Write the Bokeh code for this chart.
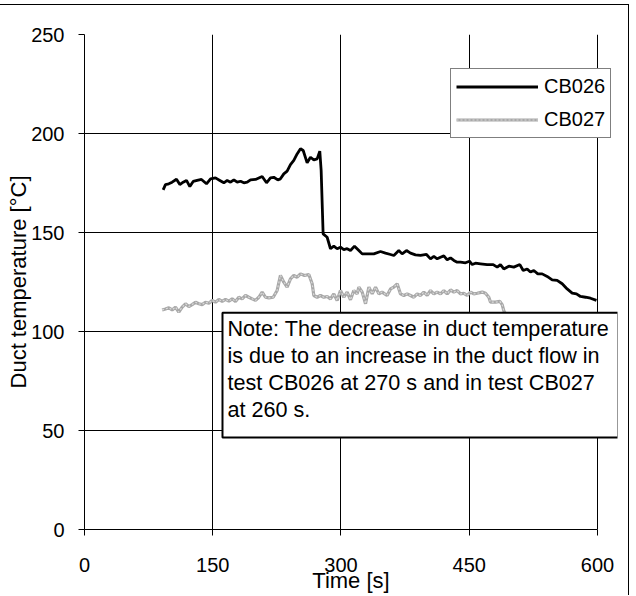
from bokeh.plotting import figure
from bokeh.models import Legend, LegendItem, Label, Range1d, FixedTicker
from bokeh.embed import file_html
from bokeh.resources import INLINE

# CB026 (black)
t26 = [92.0, 94.7, 98.6, 102.5, 107.6, 111.5, 115.4, 119.3, 123.2, 127.1, 131.8, 136.8, 142.7, 147.4,
       153.2, 158.3, 163.0, 166.9, 170.8, 174.7, 178.6, 182.5, 186.4, 190.3, 194.2, 200.0, 207.8, 212.9,
       217.5, 221.4, 226.1, 229.2, 233.1, 237.0, 240.9, 244.8, 248.7, 252.6, 255.8, 260.4, 264.3, 268.2,
       272.1, 275.2, 276.8, 279.1, 283.8, 287.7, 291.6, 295.5, 299.4, 303.3, 307.2, 311.1, 315.8, 320.9,
       324.8, 330.6, 338.4, 346.2, 352.0, 357.9, 361.8, 367.6, 371.5, 376.6, 381.3, 387.1, 393.0, 400.0,
       404.7, 408.6, 412.5, 416.4, 420.3, 424.2, 428.1, 432.0, 435.9, 439.8, 445.6, 450.3, 453.4, 457.3,
       463.2, 470.9, 478.0, 482.7, 486.5, 490.4, 496.3, 502.1, 509.2, 513.1, 517.7, 521.6, 525.5, 530.2,
       535.3, 541.1, 547.0, 552.8, 558.7, 564.5, 570.4, 575.4, 580.1, 586.0, 591.8, 598.8]
T26 = [171.5, 174.2, 174.6, 175.4, 176.9, 174.2, 175.4, 176.3, 173.2, 175.8, 176.3, 176.8, 174.6, 177.1,
       177.6, 176.3, 175.1, 176.3, 175.4, 176.6, 175.4, 175.9, 175.1, 175.4, 176.6, 176.8, 178.3, 175.1,
       177.6, 177.9, 176.6, 177.1, 179.6, 181.0, 184.3, 186.4, 189.7, 192.3, 191.4, 185.2, 188.0, 186.7,
       187.2, 191.1, 181.3, 149.3, 147.6, 141.8, 143.1, 141.8, 142.6, 141.4, 141.8, 140.9, 143.1, 140.9,
       139.2, 139.2, 139.2, 140.4, 139.6, 138.9, 138.4, 140.9, 139.2, 140.9, 139.6, 138.7, 138.4, 138.9,
       136.7, 137.9, 136.7, 137.5, 138.2, 136.2, 137.2, 135.9, 135.0, 135.0, 134.7, 135.5, 133.8, 134.5,
       134.2, 133.8, 133.8, 132.5, 133.8, 131.6, 133.0, 132.5, 133.8, 130.8, 131.6, 130.0, 130.8, 129.1,
       129.1, 127.8, 126.1, 125.8, 124.1, 121.5, 119.4, 119.0, 117.7, 117.3, 116.8, 115.7]

# CB027 (grey)
t27 = [90.8, 94.7, 98.6, 102.5, 106.4, 110.3, 114.2, 118.1, 122.0, 125.9, 129.8, 133.7, 137.6, 141.5,
       145.4, 149.3, 153.2, 157.1, 161.0, 164.9, 168.8, 172.7, 176.6, 180.5, 184.4, 188.3, 192.2, 196.1,
       200.0, 203.9, 207.8, 211.7, 215.6, 220.7, 225.3, 229.2, 233.1, 237.0, 240.9, 244.8, 248.7, 252.6,
       257.3, 262.4, 266.3, 268.2, 272.1, 276.0, 279.9, 283.8, 287.7, 291.6, 295.5, 299.4, 303.3, 307.2,
       311.1, 315.0, 318.9, 320.9, 324.8, 328.7, 332.6, 336.5, 340.4, 344.3, 348.1, 353.9, 357.9, 361.8,
       365.7, 369.6, 373.5, 377.4, 381.3, 385.2, 389.1, 393.0, 396.9, 400.8, 404.7, 408.6, 412.5, 416.4,
       420.3, 424.2, 428.1, 432.0, 435.9, 439.8, 443.7, 447.6, 451.5, 455.4, 459.3, 465.2, 469.0, 472.9,
       474.9, 480.7, 485.8, 488.5, 490.4, 492.4, 495.0]
T27 = [110.9, 111.4, 112.0, 110.9, 112.3, 109.8, 112.3, 114.0, 112.6, 113.6, 114.8, 114.0, 113.6, 114.8,
       114.3, 115.7, 114.8, 116.2, 115.2, 116.2, 115.3, 116.5, 115.2, 117.3, 116.5, 118.2, 117.3, 116.5,
       115.7, 117.3, 119.9, 117.3, 117.0, 117.3, 120.7, 128.3, 124.9, 122.4, 126.6, 128.3, 127.4, 129.1,
       128.3, 128.8, 124.1, 118.2, 117.3, 118.2, 117.3, 117.7, 116.5, 119.0, 115.7, 120.7, 117.3, 119.9,
       116.0, 120.7, 119.0, 122.4, 119.9, 114.0, 122.4, 119.0, 122.4, 119.0, 119.9, 118.2, 121.5, 122.4,
       124.1, 119.0, 118.2, 119.0, 118.2, 117.3, 119.0, 118.2, 119.9, 118.2, 120.7, 119.0, 119.9, 119.0,
       120.7, 119.0, 121.0, 119.9, 120.7, 119.0, 119.3, 118.2, 119.9, 119.0, 119.3, 119.9, 119.3, 117.3,
       114.8, 114.8, 115.2, 113.6, 110.5, 108.9, 104.0]

x_ticks = [0, 150, 300, 450, 600]
y_ticks = [0, 50, 100, 150, 200, 250]
series_names = ["CB026", "CB027"]
note_text = ("Note: The decrease in duct temperature\n"
             "is due to an increase in the duct flow in\n"
             "test CB026 at 270 s and in test CB027\n"
             "at 260 s.")

FONT = "Liberation Sans"

# frame extends a little past x=600 so the legend and the note can overhang it
p = figure(width=629, height=591, output_backend="svg", toolbar_location=None,
           x_range=Range1d(0, 623.4), y_range=Range1d(0, 250),
           min_border_left=84, min_border_right=12, min_border_top=29, min_border_bottom=67,
           background_fill_color="white", border_fill_color="white",
           outline_line_color=None,
           styles={"margin-top": "4px", "border-top": "1px solid black",
                   "border-right": "1px solid black"})

for ax, ticks in ((p.xaxis, x_ticks), (p.yaxis, y_ticks)):
    ax.ticker = FixedTicker(ticks=ticks)
    ax.axis_line_color = "black"
    ax.major_tick_line_color = "black"
    ax.major_tick_out = 6
    ax.major_tick_in = 0
    ax.minor_tick_line_color = None
    ax.major_label_text_font = FONT
    ax.major_label_text_font_size = "20px"
    ax.major_label_text_color = "black"
    ax.axis_label_text_font = FONT
    ax.axis_label_text_font_size = "22px"
    ax.axis_label_text_font_style = "normal"
    ax.axis_label_text_color = "black"

p.xaxis.bounds = (0, 600)
p.xaxis.axis_label = "Time [s]"
p.yaxis.axis_label = "Duct temperature [°C]"
p.xaxis.major_label_standoff = 22
p.xaxis.axis_label_standoff = -7
p.yaxis.major_label_standoff = 14
p.yaxis.axis_label_standoff = -3

for g, ticks in ((p.xgrid, x_ticks), (p.ygrid, y_ticks)):
    g.ticker = FixedTicker(ticks=ticks)
    g.grid_line_color = "black"
    g.grid_line_width = 1
p.ygrid.cross_bounds = (0, 600)

r26 = p.line(t26, T26, line_color="black", line_width=2.8)
r27a = p.line(t27, T27, line_color="#a8a8a8", line_width=3.2)
r27b = p.line(t27, T27, line_color="#dadada", line_width=1.2, line_dash="2 2")

legend = Legend(items=[LegendItem(label=series_names[0], renderers=[r26]),
                       LegendItem(label=series_names[1], renderers=[r27a, r27b])],
                location=(366, 391), orientation="vertical",
                glyph_width=82, glyph_height=25, label_height=25, label_standoff=6,
                spacing=8, padding=5, margin=0,
                label_text_font=FONT, label_text_font_size="20px", label_text_color="black",
                border_line_color="black", border_line_width=1,
                background_fill_color="white", background_fill_alpha=1.0)
p.add_layout(legend, "center")

note = Label(x=161.4, y=109.5, x_units="data", y_units="data", text=note_text,
             anchor="top_left", text_align="left", text_baseline="top",
             text_font=FONT, text_font_size="21.6px", text_color="black",
             text_line_height=1.09,
             padding=dict(left=5, right=9, top=3, bottom=15),
             background_fill_color="white", background_fill_alpha=1.0,
             border_line_color="black", border_line_width=2)
p.add_layout(note)

open("out.html", "w").write(file_html(p, INLINE))
